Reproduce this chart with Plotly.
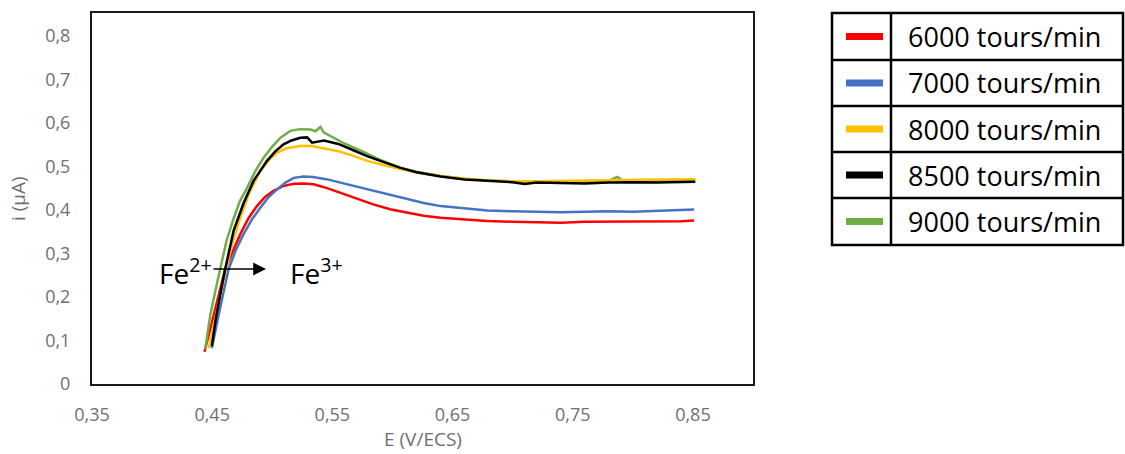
import plotly.graph_objects as go

W, H = 1125, 454

# ---------------- data ----------------
names = ["6000 tours/min", "7000 tours/min", "8000 tours/min", "8500 tours/min", "9000 tours/min"]
colors = ["#FF0000", "#4472C4", "#FFC000", "#000000", "#70AD47"]

x_6000 = [0.4436, 0.447, 0.451, 0.455, 0.4608, 0.467, 0.4733, 0.48, 0.4872, 0.494, 0.501, 0.509, 0.5178,
          0.526, 0.5344, 0.545, 0.5567, 0.57, 0.584, 0.598, 0.612, 0.626, 0.64, 0.66, 0.679, 0.70, 0.72,
          0.74, 0.76, 0.78, 0.80, 0.82, 0.84, 0.851]
y_6000 = [0.074, 0.11, 0.155, 0.20, 0.264, 0.305, 0.344, 0.38, 0.409, 0.43, 0.444, 0.455, 0.4605,
          0.461, 0.459, 0.451, 0.44, 0.427, 0.413, 0.402, 0.394, 0.387, 0.382, 0.378, 0.375, 0.373, 0.372,
          0.371, 0.373, 0.373, 0.374, 0.374, 0.374, 0.376]

x_7000 = [0.4497, 0.453, 0.457, 0.4636, 0.47, 0.476, 0.483, 0.49, 0.497, 0.504, 0.511, 0.5178, 0.526,
          0.534, 0.545, 0.5567, 0.57, 0.584, 0.598, 0.612, 0.626, 0.64, 0.66, 0.679, 0.70, 0.72, 0.74,
          0.76, 0.78, 0.80, 0.82, 0.84, 0.851]
y_7000 = [0.082, 0.13, 0.18, 0.264, 0.31, 0.344, 0.378, 0.405, 0.43, 0.4475, 0.463, 0.474, 0.477,
          0.476, 0.471, 0.463, 0.454, 0.444, 0.434, 0.4245, 0.416, 0.409, 0.404, 0.399, 0.397, 0.396, 0.395,
          0.396, 0.397, 0.396, 0.398, 0.400, 0.401]

x_8000 = [0.4472, 0.451, 0.455, 0.4615, 0.4675, 0.4733, 0.481, 0.49, 0.497, 0.5039, 0.512, 0.5233, 0.532,
          0.54, 0.555, 0.567, 0.579, 0.593, 0.607, 0.62, 0.64, 0.66, 0.68, 0.70, 0.72, 0.74, 0.76, 0.78,
          0.80, 0.82, 0.84, 0.852]
y_8000 = [0.083, 0.13, 0.18, 0.264, 0.33, 0.382, 0.44, 0.49, 0.514, 0.532, 0.542, 0.547, 0.548,
          0.543, 0.535, 0.525, 0.513, 0.503, 0.494, 0.486, 0.478, 0.472, 0.468, 0.466, 0.466, 0.467, 0.468,
          0.468, 0.469, 0.470, 0.470, 0.4705]

x_8500 = [0.4497, 0.453, 0.457, 0.4608, 0.4678, 0.476, 0.4844, 0.4956, 0.5025, 0.5094, 0.516, 0.5233,
          0.529, 0.5331, 0.543, 0.555, 0.567, 0.5789, 0.5928, 0.6067, 0.62, 0.64, 0.66, 0.68, 0.70, 0.71,
          0.72, 0.74, 0.76, 0.78, 0.80, 0.82, 0.84, 0.852]
y_8500 = [0.087, 0.15, 0.21, 0.264, 0.352, 0.415, 0.467, 0.513, 0.535, 0.551, 0.56, 0.566,
          0.567, 0.555, 0.560, 0.552, 0.538, 0.524, 0.51, 0.497, 0.487, 0.477, 0.470, 0.467, 0.464, 0.460,
          0.463, 0.462, 0.461, 0.463, 0.464, 0.463, 0.465, 0.465]

x_9000 = [0.4442, 0.4485, 0.4539, 0.4567, 0.462, 0.4678, 0.473, 0.479, 0.486, 0.4928, 0.50, 0.5067, 0.515,
          0.523, 0.5317, 0.536, 0.54, 0.543, 0.55, 0.56, 0.575, 0.59, 0.6067, 0.62, 0.64, 0.66, 0.68, 0.70,
          0.709, 0.72, 0.74, 0.76, 0.78, 0.787, 0.792, 0.80, 0.82, 0.84, 0.852]
y_9000 = [0.080, 0.16, 0.23, 0.264, 0.33, 0.38, 0.42, 0.451, 0.49, 0.52, 0.546, 0.566, 0.582,
          0.586, 0.585, 0.581, 0.591, 0.578, 0.568, 0.553, 0.535, 0.515, 0.497, 0.488, 0.478, 0.472, 0.468,
          0.466, 0.463, 0.466, 0.465, 0.466, 0.467, 0.476, 0.467, 0.467, 0.468, 0.469, 0.470]

series_x = [x_6000, x_7000, x_8000, x_8500, x_9000]
series_y = [y_6000, y_7000, y_8000, y_8500, y_9000]

x_ticks = [0.35, 0.45, 0.55, 0.65, 0.75, 0.85]
x_ticklabels = ["0,35", "0,45", "0,55", "0,65", "0,75", "0,85"]
y_ticks = [0, 0.1, 0.2, 0.3, 0.4, 0.5, 0.6, 0.7, 0.8]
y_ticklabels = ["0", "0,1", "0,2", "0,3", "0,4", "0,5", "0,6", "0,7", "0,8"]

# ---------------- helpers ----------------
def px(x):
    return x / W

def py(y):
    return 1 - y / H

FONT = "Open Sans"
GREY = "#6f6f6f"

fig = go.Figure()
draw_order = [0, 1, 4, 2, 3]
for i in draw_order:
    fig.add_trace(go.Scatter(x=series_x[i], y=series_y[i], mode="lines", name=names[i],
                             line=dict(color=colors[i], width=2.5), showlegend=False))

# plot area: x 92..753 px, y 13..384 px
fig.update_layout(
    width=W, height=H,
    margin=dict(l=0, r=0, t=0, b=0),
    paper_bgcolor="white", plot_bgcolor="white",
    font=dict(family=FONT, color=GREY),
    xaxis=dict(domain=[px(92), px(753)], range=[0.35, 0.9], tickvals=x_ticks, ticktext=x_ticklabels,
               showgrid=False, zeroline=False, showline=True, linecolor="#1a1a1a", linewidth=2,
               mirror=True, ticks="", tickfont=dict(size=18, color=GREY), ticklabelstandoff=13,
               automargin=False),
    yaxis=dict(domain=[py(384), py(13)], range=[0, 0.853], tickvals=y_ticks, ticktext=y_ticklabels,
               showgrid=False, zeroline=False, showline=True, linecolor="#1a1a1a", linewidth=2,
               mirror=True, ticks="", tickfont=dict(size=18, color=GREY), ticklabelstandoff=16,
               automargin=False),
)

annotations = [
    dict(x=px(423), y=py(439), xref="paper", yref="paper", text="E (V/ECS)", showarrow=False,
         font=dict(size=19, color=GREY, family=FONT), xanchor="center", yanchor="middle"),
    dict(x=px(18), y=py(199), xref="paper", yref="paper", text="i (µA)", showarrow=False, textangle=-90,
         font=dict(size=19, color=GREY, family=FONT), xanchor="center", yanchor="middle"),
    dict(x=px(157), y=py(271), xref="paper", yref="paper", text="Fe<sup>2+</sup>", showarrow=False,
         font=dict(size=28, color="black", family=FONT), xanchor="left", yanchor="middle"),
    dict(x=px(288), y=py(271), xref="paper", yref="paper", text="Fe<sup>3+</sup>", showarrow=False,
         font=dict(size=28, color="black", family=FONT), xanchor="left", yanchor="middle"),
    dict(x=px(266), y=py(269), xref="paper", yref="paper", ax=-54, ay=0, axref="pixel",
         ayref="pixel", text="", showarrow=True, arrowhead=2, arrowsize=1.6, arrowwidth=1.6,
         arrowcolor="black"),
]

# ---------------- legend table ----------------
lx0, ldiv, lx1 = 832, 891, 1123
row_edges = [13, 60, 106, 152, 198, 245]
shapes = []
lw = 2.5
shapes.append(dict(type="rect", xref="paper", yref="paper", x0=px(lx0), x1=px(lx1), y0=py(row_edges[-1]),
                   y1=py(row_edges[0]), line=dict(color="black", width=lw)))
shapes.append(dict(type="line", xref="paper", yref="paper", x0=px(ldiv), x1=px(ldiv), y0=py(row_edges[-1]),
                   y1=py(row_edges[0]), line=dict(color="black", width=lw)))
for e in row_edges[1:-1]:
    shapes.append(dict(type="line", xref="paper", yref="paper", x0=px(lx0), x1=px(lx1), y0=py(e), y1=py(e),
                       line=dict(color="black", width=lw)))
for k in range(len(names)):
    yc = (row_edges[k] + row_edges[k + 1]) / 2
    shapes.append(dict(type="line", xref="paper", yref="paper", x0=px(846), x1=px(883), y0=py(yc), y1=py(yc),
                       line=dict(color=colors[k], width=7)))
    annotations.append(dict(x=px(906), y=py(yc), xref="paper", yref="paper", text=names[k], showarrow=False,
                            font=dict(size=27, color="black", family=FONT), xanchor="left", yanchor="middle"))

fig.update_layout(shapes=shapes, annotations=annotations)
fig.write_html("out.html", config={"displayModeBar": False},
               post_script="document.body.style.margin='0';document.body.style.overflow='hidden';")
